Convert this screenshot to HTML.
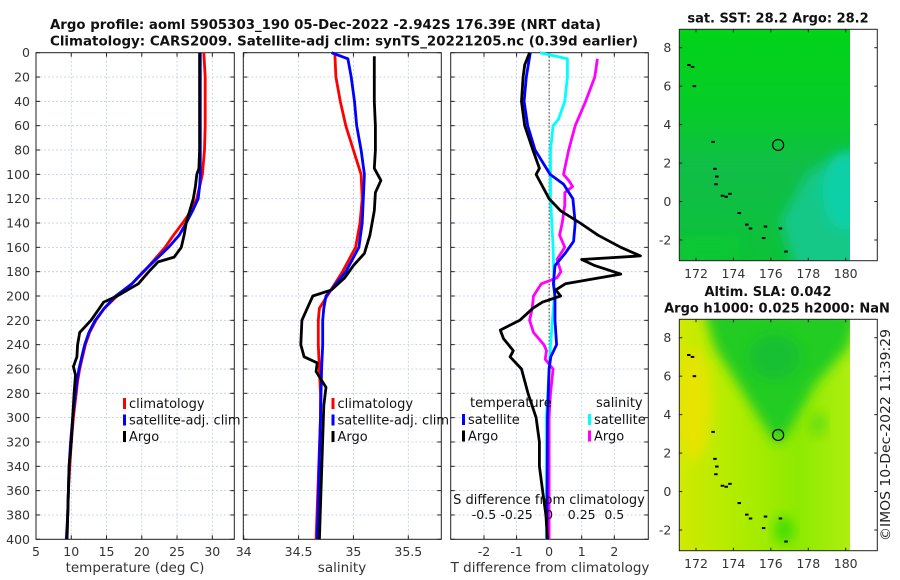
<!DOCTYPE html>
<html><head><meta charset="utf-8"><style>
html,body{margin:0;padding:0;background:#fff;}
svg{display:block;font-family:"DejaVu Sans","Liberation Sans",sans-serif;}
</style></head><body>
<svg id="fig" width="900" height="580" viewBox="0 0 900 580" xmlns="http://www.w3.org/2000/svg">
<defs>
<linearGradient id="g1" x1="0" y1="0" x2="0" y2="1"><stop offset="0" stop-color="#02d418"/><stop offset="0.35" stop-color="#06cc28"/><stop offset="0.6" stop-color="#10be48"/><stop offset="1" stop-color="#0cc238"/></linearGradient>
<linearGradient id="g2" x1="0" y1="0" x2="1" y2="0"><stop offset="0" stop-color="#d0ea00"/><stop offset="0.3" stop-color="#b4ec00"/><stop offset="0.7" stop-color="#8eea00"/><stop offset="1" stop-color="#aeee10"/></linearGradient>
<filter id="bl" x="-30%" y="-30%" width="160%" height="160%"><feGaussianBlur stdDeviation="6"/></filter>
</defs>
<g id="root"></g>
</svg>
<script>
// ---- data ----
const tClimDepth=[0,20,40,60,80,100,110,120,130,140,150,160,170,180,190,200,210,220,230,240,250,260,270,280,300,320,340,360,380,400];
const tClim=[28.8,29.0,29.0,29.0,28.9,28.6,28.2,27.8,27.0,25.8,24.5,23.3,21.8,20.3,18.6,16.5,14.7,13.5,12.6,12.0,11.6,11.2,10.9,10.7,10.3,10.0,9.8,9.6,9.5,9.4];
const tSat=[28.3,28.3,28.3,28.3,28.3,28.3,28.2,28.0,27.2,26.3,25.3,23.8,22.0,20.2,18.6,16.3,14.7,13.4,12.5,11.9,11.5,11.1,10.8,10.6,10.2,9.9,9.7,9.6,9.5,9.3];
const tArgoDepth=[0,20,40,60,80,95,100,110,120,130,140,150,160,168,172,180,190,200,205,210,220,230,240,250,258,265,280,300,320,340,360,380,400];
const tArgo=[28.2,28.2,28.2,28.2,28.2,28.1,27.8,27.6,27.3,26.8,26.3,26.0,25.6,24.6,22.3,21.0,19.5,16.5,14.6,14.0,12.8,11.2,10.9,10.8,10.3,10.6,10.4,10.2,10.0,9.7,9.6,9.5,9.4];
const sClimDepth=[0,20,40,60,80,100,120,140,160,180,200,210,220,240,260,280,300,400];
const sClim=[34.83,34.84,34.88,34.93,35.0,35.07,35.08,35.06,35.02,34.9,34.76,34.69,34.68,34.68,34.69,34.7,34.7,34.66];
const sSatDepth=[0,5,20,40,60,80,100,120,140,160,180,200,210,220,240,260,300,400];
const sSat=[34.8,34.95,34.98,35.01,35.03,35.07,35.1,35.09,35.08,35.05,34.93,34.75,34.73,34.72,34.72,34.71,34.7,34.67];
const sArgoDepth=[3,20,40,60,80,95,105,115,130,150,165,175,185,195,200,210,220,240,250,255,262,268,275,290,400];
const sArgo=[35.19,35.19,35.19,35.2,35.2,35.19,35.25,35.2,35.19,35.15,35.1,35.0,34.92,34.8,34.63,34.58,34.53,34.52,34.55,34.67,34.66,34.7,34.75,34.73,34.69];
const dTSatDepth=[0,20,40,60,80,100,108,120,140,155,165,175,190,200,220,240,250,260,300,400];
const dTSat=[-0.58,-0.7,-0.77,-0.66,-0.43,0.03,0.44,0.73,0.8,0.75,0.49,0.18,0.13,0.18,0.18,0.23,0.05,0.0,-0.05,-0.07];
const dTArgoDepth=[0,10,20,40,60,80,95,100,110,120,130,140,150,160,167,170,175,182,190,195,200,205,210,220,228,235,245,250,260,280,300,320,340,360,380,400];
const dTArgo=[-0.6,-0.75,-0.8,-0.85,-0.75,-0.5,-0.3,-0.4,-0.2,0.0,0.35,0.95,1.5,2.2,2.8,1.0,1.4,2.2,0.5,0.2,0.35,-0.2,-0.5,-0.9,-1.5,-1.4,-1.1,-1.2,-0.85,-0.65,-0.4,-0.3,-0.3,-0.2,-0.1,-0.05];
const dSSatDepth=[0,5,20,40,55,60,80,120,160,200,240,260,300,400];
const dSSat=[-0.07,0.14,0.14,0.12,0.07,0.03,0.01,0.01,0.03,0.04,0.01,0.0,-0.02,-0.02];
const dSArgoDepth=[5,20,40,60,80,95,100,105,110,115,125,140,150,160,170,180,185,190,200,210,220,230,240,245,252,260,280,300,400];
const dSArgo=[0.37,0.35,0.28,0.2,0.15,0.12,0.11,0.15,0.18,0.12,0.12,0.1,0.08,0.12,0.06,0.09,0.06,-0.06,-0.12,-0.13,-0.15,-0.12,-0.04,-0.02,-0.03,0.03,0.01,0.0,0.0];
const depthTicks=[0,20,40,60,80,100,120,140,160,180,200,220,240,260,280,300,320,340,360,380,400];
const tTicks=[5,10,15,20,25,30];
const sTicks=[34,34.5,35,35.5];
const dTTicks=[-2,-1,0,1,2];
const dSTicks=[-0.5,-0.25,0,0.25,0.5];
const dSTickLabels=["-0.5","-0.25","0","0.25","0.5"];
const lonTicks=[172,174,176,178,180];
const latTicks=[-2,0,2,4,6,8];
const argoLon=176.39, argoLat=2.942;
const coastLon=[171.8,171.9,172.9,173.0,173.1,173.05,173.4,173.6,173.8,174.3,174.7,174.9,175.6,175.7,176.5,176.8,171.6];
const coastLat=[7.0,6.0,3.1,1.7,1.3,0.9,0.3,0.25,0.4,-0.6,-1.2,-1.4,-1.9,-1.3,-1.4,-2.6,7.1];

const NS="http://www.w3.org/2000/svg";
const root=document.getElementById('root');
function el(tag,attrs,parent,text){const e=document.createElementNS(NS,tag);for(const k in attrs)e.setAttribute(k,attrs[k]);if(text!==undefined)e.textContent=text;(parent||root).appendChild(e);return e;}
const Y0=52.7,Y1=539.3;
const yD=d=>Y0+(Y1-Y0)*d/400;
function mkX(a,b,x0,x1){return v=>x0+(v-a)*(x1-x0)/(b-a);}
function panel(name,x0,x1,xs,ticks,labels){
  const g=el('g',{});
  
  
  depthTicks.forEach(d=>{el('line',{x1:x0,x2:x1,y1:yD(d),y2:yD(d),stroke:'#c0cae0','stroke-width':0.8,'stroke-dasharray':'2,2'},g);
    el('line',{x1:x0,x2:x0+4,y1:yD(d),y2:yD(d),stroke:'#222'},g);el('line',{x1:x1-4,x2:x1,y1:yD(d),y2:yD(d),stroke:'#222'},g);});
  ticks.forEach((t,i)=>{const x=xs(t);el('line',{x1:x,x2:x,y1:Y0,y2:Y1,stroke:'#c0cae0','stroke-width':0.8,'stroke-dasharray':'2,2'},g);
    el('line',{x1:x,x2:x,y1:Y1,y2:Y1-4,stroke:'#222'},g);el('line',{x1:x,x2:x,y1:Y0,y2:Y0+4,stroke:'#222'},g);
    if(labels){const tx=el('text',{x:x,y:Y1+16.5,'text-anchor':'middle','font-size':12.5,fill:'#333'},g,String(t));
      }});
  el('rect',{x:x0,y:Y0,width:x1-x0,height:Y1-Y0,fill:'none',stroke:'#222','stroke-width':1},g);
  return g;
}
function line(g,xs,vals,deps,color,name){
  const pts=vals.map((v,i)=>xs(v).toFixed(1)+','+yD(deps[i]).toFixed(1)).join(' ');
  const p=el('polyline',{points:pts,fill:'none',stroke:color,'stroke-width':2.8,'stroke-linejoin':'round'},g);
  
}
function legend(g,x,y,items){items.forEach((it,i)=>{el('rect',{x:x,y:y+i*16.5-9,width:3,height:11,fill:it[1]},g);
  const t=el('text',{x:x+6,y:y+i*16.5+1,'font-size':13,fill:'#111'},g,it[0]);});}

// titles
let t=el('text',{x:50,y:29,'font-size':13,'font-weight':'bold',fill:'#111',textLength:551,lengthAdjust:'spacingAndGlyphs'},root,'Argo profile: aoml 5905303_190 05-Dec-2022 -2.942S 176.39E (NRT data)');

t=el('text',{x:50,y:45.7,'font-size':13,'font-weight':'bold',fill:'#111',textLength:588,lengthAdjust:'spacingAndGlyphs'},root,'Climatology: CARS2009. Satellite-adj clim: synTS_20221205.nc (0.39d earlier)');


// depth tick labels
depthTicks.forEach(d=>{const tx=el('text',{x:30,y:yD(d)+4.5,'text-anchor':'end','font-size':12.5,fill:'#333'},root,String(d));
  });

// panel 1 temperature
const xT=mkX(5,30,36,212.3);
const p1=panel('temperature-panel',36,234.3,xT,tTicks,true);
line(p1,xT,tClim,tClimDepth,'#f00','temp-climatology-line');
line(p1,xT,tSat,tClimDepth,'#00f','temp-satellite-line');
line(p1,xT,tArgo,tArgoDepth,'#000','temp-argo-line');
legend(p1,123,407,[['climatology','#f00'],['satellite-adj. clim','#00f'],['Argo','#000']]);
t=el('text',{x:135,y:572,'text-anchor':'middle','font-size':13.5,fill:'#333'},root,'temperature (deg C)');

// panel 2 salinity
const xS=mkX(34,35.5,243.7,408.3);
const p2=panel('salinity-panel',243.3,441.3,xS,sTicks,true);
line(p2,xS,sClim,sClimDepth,'#f00','sal-climatology-line');
line(p2,xS,sSat,sSatDepth,'#00f','sal-satellite-line');
line(p2,xS,sArgo,sArgoDepth,'#000','sal-argo-line');
legend(p2,331.5,407,[['climatology','#f00'],['satellite-adj. clim','#00f'],['Argo','#000']]);
t=el('text',{x:342,y:572,'text-anchor':'middle','font-size':13.5,fill:'#333'},root,'salinity');

// panel 3 differences
const xdT=mkX(-2,2,484,614.3);
const xdS=mkX(-0.5,0.5,484,614.3);
const p3=panel('difference-panel',450.7,648.3,xdT,dTTicks,true);
el('line',{x1:xdT(0),x2:xdT(0),y1:Y0,y2:Y1,stroke:'#333','stroke-width':1,'stroke-dasharray':'1.5,2'},p3);
line(p3,xdS,dSSat,dSSatDepth,'#0ff','dsal-satellite-line');
line(p3,xdS,dSArgo,dSArgoDepth,'#f0f','dsal-argo-line');
line(p3,xdT,dTSat,dTSatDepth,'#00f','dtemp-satellite-line');
line(p3,xdT,dTArgo,dTArgoDepth,'#000','dtemp-argo-line');
t=el('text',{x:470,y:407,'font-size':13,fill:'#111'},p3,'temperature');
t=el('text',{x:596,y:407,'font-size':13,fill:'#111'},p3,'salinity');
legend(p3,462,423,[['satellite','#00f'],['Argo','#000']]);
legend(p3,588,423,[['satellite','#0ff'],['Argo','#f0f']]);
t=el('text',{x:549,y:504,'text-anchor':'middle','font-size':13,fill:'#111'},p3,'S difference from climatology');
dSTicks.forEach((v,i)=>{const tx=el('text',{x:xdS(v),y:519,'text-anchor':'middle','font-size':12.5,fill:'#111'},p3,dSTickLabels[i]);});
t=el('text',{x:550,y:572,'text-anchor':'middle','font-size':13.5,fill:'#333'},root,'T difference from climatology');

// maps
function map(name,top,bot,y8,titles,fillFn){
  const g=el('g',{});
  const xL=mkX(172,180,696,845.7), yL=v=>y8+(8-v)*19.23;
  const x0=679.3,x1=877.3,xd=850;
  const cp='cp'+name;const c=el('clipPath',{id:cp},g);el('rect',{x:x0,y:top,width:xd-x0,height:bot-top},c);
  const inner=el('g',{'clip-path':'url(#'+cp+')'},g);fillFn(inner,x0,xd,top,bot,xL,yL);
  coastLon.forEach((lo,i)=>{el('rect',{x:xL(lo)-1.5,y:yL(coastLat[i])-1,width:3.5,height:2,fill:'#000'},inner);});
  const ci=el('circle',{cx:xL(argoLon),cy:yL(argoLat),r:5.5,fill:'none',stroke:'#000','stroke-width':1.2},g);
  el('rect',{x:x0,y:top,width:x1-x0,height:bot-top,fill:'none',stroke:'#222'},g);
  lonTicks.forEach(v=>{el('line',{x1:xL(v),x2:xL(v),y1:bot,y2:bot-3,stroke:'#222'},g);el('line',{x1:xL(v),x2:xL(v),y1:top,y2:top+3,stroke:'#222'},g);
    const tx=el('text',{x:xL(v),y:bot+17.5,'text-anchor':'middle','font-size':12.5,fill:'#333'},g,String(v));});
  latTicks.forEach(v=>{el('line',{x1:x0,x2:x0+3,y1:yL(v),y2:yL(v),stroke:'#222'},g);el('line',{x1:x1,x2:x1-3,y1:yL(v),y2:yL(v),stroke:'#222'},g);
    const tx=el('text',{x:x0-8,y:yL(v)+4.5,'text-anchor':'end','font-size':12.5,fill:'#333'},g,String(v));});
  titles.forEach(s=>{const tx=el('text',{x:s[1],y:s[2],'text-anchor':'middle','font-size':13,'font-weight':'bold',fill:'#111'},g,s[0]);});
}
map('sst-map',29.3,260.7,47.7,[['sat. SST: 28.2 Argo: 28.2',778,22.7]],(g,x0,x1,t,b,xL,yL)=>{
  el('rect',{x:x0,y:t,width:x1-x0,height:b-t,fill:'url(#g1)'},g);
  el('polygon',{points:`${x1+20},${yL(3.2)} ${x1+20},${b+20} ${xL(177.5)},${b+20} ${xL(176.5)},${yL(-1)} ${xL(178)},${yL(1.5)}`,fill:'#14c888',filter:'url(#bl)'},g);
  el('ellipse',{cx:x1-5,cy:yL(0.5),rx:22,ry:38,fill:'#10d0a8',filter:'url(#bl)'},g);
  el('rect',{x:x0,y:b-25,width:60,height:25,fill:'#08cc30',opacity:0.6,filter:'url(#bl)'},g);
});
map('sla-map',319.3,550.7,337.7,[['Altim. SLA: 0.042',768,296],['Argo h1000: 0.025 h2000: NaN',777,312.3]],(g,x0,x1,t,b,xL,yL)=>{
  el('rect',{x:x0,y:t,width:x1-x0,height:b-t,fill:'url(#g2)'},g);
  el('ellipse',{cx:x0+14,cy:yL(4.5),rx:18,ry:55,fill:'#e6e400',filter:'url(#bl)'},g);
  el('polygon',{points:`${xL(172.4)},${t-10} ${x1+10},${t-10} ${x1-2},${yL(7.5)} ${xL(178.3)},${yL(5.5)} ${xL(177)},${yL(3.2)} ${xL(176.4)},${yL(2.4)} ${xL(175.6)},${yL(3.5)} ${xL(174.3)},${yL(5.5)} ${xL(173)},${yL(7.5)}`,fill:'#22cc22',filter:'url(#bl)'},g);
  el('ellipse',{cx:xL(176.2),cy:yL(7),rx:25,ry:22,fill:'#14c032',filter:'url(#bl)'},g);
  el('ellipse',{cx:xL(176.7),cy:yL(-2),rx:10,ry:14,fill:'#44dd00',filter:'url(#bl)'},g);
  el('ellipse',{cx:xL(178.5),cy:yL(3.5),rx:8,ry:12,fill:'#66dd10',filter:'url(#bl)'},g);
});
t=el('text',{x:890,y:435,'text-anchor':'middle','font-size':13,fill:'#222',transform:'rotate(-90 890 435)',textLength:212,lengthAdjust:'spacingAndGlyphs'},root,'©IMOS 10-Dec-2022 11:39:29');

</script>
</body></html>
